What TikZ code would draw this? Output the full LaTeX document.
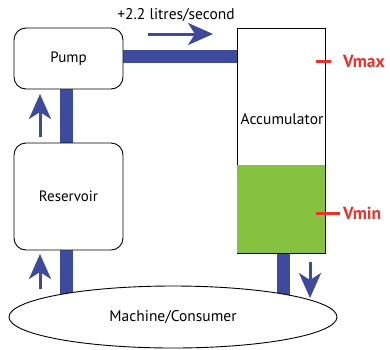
\documentclass[tikz,border=0pt]{standalone}
\usepackage{fontspec}
\setmainfont{PT Sans}
\usepackage{tikz}
\usetikzlibrary{arrows.meta,shapes.geometric,backgrounds}
\definecolor{pipeBlue}{HTML}{3E4A9C}
\definecolor{fluidGreen}{HTML}{86C240}
\definecolor{markRed}{HTML}{E8322B}
\tikzset{
  unit/.style={draw=black, fill=white, line width=0.9pt, rounded corners=12pt,
        minimum width=109pt, minimum height=61pt, align=center, font=\fontsize{15}{17}\selectfont},
  tank/.style={draw=black, line width=0.9pt, minimum width=88pt, minimum height=225pt,
        inner sep=0pt},
  consumer/.style={draw=black, fill=white, line width=0.9pt, ellipse,
        minimum width=328pt, minimum height=62pt, font=\fontsize{15.5}{17}\selectfont},
  pipe/.style={line width=13pt, draw=pipeBlue},
  flowarrow/.style={-{Stealth[length=25pt, width=22pt, inset=7pt]}, line width=3pt, draw=pipeBlue},
  level/.style={line width=3pt, draw=markRed},
  levlab/.style={anchor=west, inner sep=0pt, text=markRed, font=\fontsize{17.5}{19}\selectfont\bfseries},
  flab/.style={font=\fontsize{15.5}{17}\selectfont, inner sep=1pt}
}
\begin{document}
\begin{tikzpicture}[x=1pt, y=-1pt]
\useasboundingbox (0,0) rectangle (390,349);
\node[unit] (pump) at (68.5,58.5) {Pump};
\node[unit, minimum height=107pt] (res) at (68.5,196.5) {Reservoir};
\node[tank] (acc) at (281,140.5) {};
\fill[fluidGreen] (acc.south west) rectangle (acc.east |- 0,165);
\node[font=\fontsize{15.5}{17}\selectfont, inner sep=0pt] (acclab) at (282,119) {Accumulator};
\node[consumer] (cons) at (173,317) {Machine/Consumer};

% pipes
\begin{scope}[on background layer]
\draw[pipe] (pump.east |- 0,56.5) -- (acc.west |- 0,56.5);
\draw[pipe] (pump.south -| 66.5,0) -- (res.north -| 66.5,0);
\draw[pipe] (res.south -| 66.5,0) -- (cons.center -| 66.5,0);
\draw[pipe] (acc.south -| 283.5,0) -- (cons.center -| 283.5,0);
\end{scope}

% flow directions
\coordinate (fa1) at (148,34);
\coordinate (fa2) at (213,34);
\coordinate (fb1) at (40,137);
\coordinate (fb2) at (40,94);
\coordinate (fc1) at (40,289);
\coordinate (fc2) at (40,254);
\coordinate (fd1) at (310,262);
\coordinate (fd2) at (310,298);
\draw[flowarrow] (fa1) -- (fa2);
\draw[flowarrow] (fb1) -- (fb2);
\draw[flowarrow] (fc1) -- (fc2);
\draw[flowarrow] (fd1) -- (fd2);
\node[flab] (rate) at (176,15) {+2.2 litres/second};

% volume marks
\coordinate (vmaxa) at (316,61);
\coordinate (vmaxb) at (331,61);
\coordinate (vmina) at (316,213);
\coordinate (vminb) at (340,213);
\draw[level] (vmaxa) -- (vmaxb);
\draw[level] (vmina) -- (vminb);
\node[levlab] (vmax) at (343,61) {Vmax};
\node[levlab] (vmin) at (343,213) {Vmin};
\end{tikzpicture}
\end{document}
